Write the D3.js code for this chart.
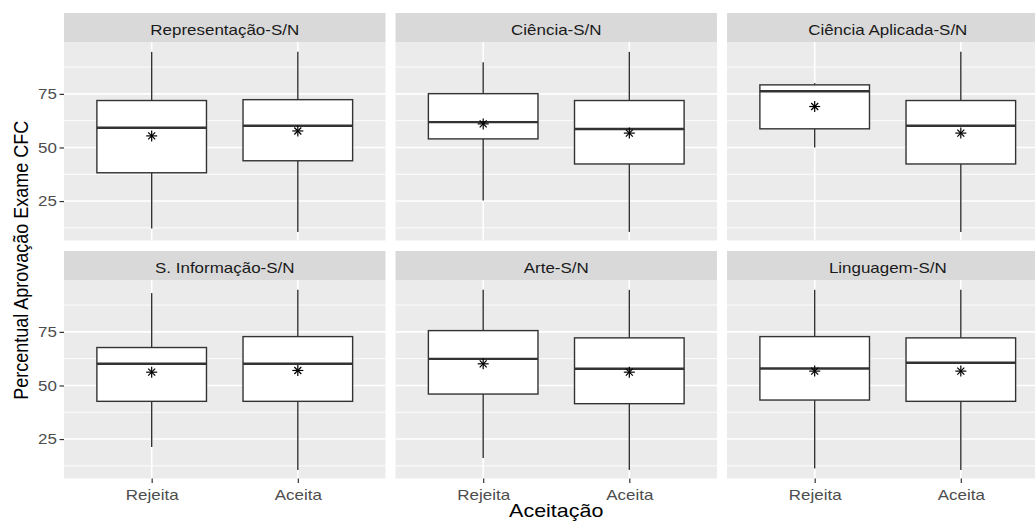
<!DOCTYPE html>
<html>
<head>
<meta charset="utf-8">
<script src="https://cdn.jsdelivr.net/npm/d3@7"></script>
<style>
  body { margin: 0; background: #fff; }
  text { font-family: "Liberation Sans", Arial, sans-serif; }
</style>
</head>
<body>
<div class="chart"></div>
<script>
// data
var facets = ["Representação-S/N", "Ciência-S/N", "Ciência Aplicada-S/N",
              "S. Informação-S/N", "Arte-S/N", "Linguagem-S/N"];
var groups = ["Rejeita", "Aceita"];

var whiskerLow  = [[12.2, 10.6], [25.3, 10.6], [50.0, 10.6], [21.3, 10.6], [16.2, 10.6], [11.3, 10.6]];
var q1          = [[38.2, 43.8], [54.0, 42.3], [58.7, 42.3], [42.6, 42.6], [46.0, 41.5], [43.2, 42.6]];
var median      = [[59.2, 60.1], [61.8, 58.6], [76.2, 60.1], [60.1, 60.1], [62.4, 57.8], [57.9, 60.6]];
var q3          = [[71.9, 72.3], [75.1, 71.9], [79.2, 71.9], [67.7, 72.8], [75.6, 72.2], [72.8, 72.2]];
var whiskerHigh = [[94.6, 94.6], [89.7, 94.6], [80.0, 94.6], [93.1, 94.6], [94.6, 94.6], [94.6, 94.6]];
var means       = [[55.4, 57.7], [61.0, 56.7], [69.1, 56.7], [56.2, 57.0], [60.1, 56.2], [56.7, 56.7]];

var yTicks = [25, 50, 75];
var yMinor = [12.5, 37.5, 62.5, 87.5];

// layout
var W = 1035, H = 521,
    left = 64, top0 = 13,
    panelW = 321.5, gapX = 10,
    stripH = 29, panelH = 198.5, rowStep = 238,
    stretch = 1.13; // the picture is a bit wider than tall

var svg = d3.select(".chart").append("svg")
    .attr("width", W)
    .attr("height", H);

// horizontal stretch for text, like the reference
function widen(sel) {
  sel.each(function() {
    var t = d3.select(this);
    var x = +t.attr("x") || 0, y = +t.attr("y") || 0;
    t.attr("x", 0).attr("y", 0)
     .attr("transform", "translate(" + x + "," + y + ") scale(" + stretch + ",1)");
  });
}

facets.forEach(function(name, i) {
  var col = i % 3, row = Math.floor(i / 3);
  var px = left + col * (panelW + gapX);
  var sy = top0 + row * rowStep;
  var py = sy + stripH;

  var x = d3.scalePoint().domain(groups).range([px, px + panelW]).padding(0.6);
  var y = d3.scaleLinear().domain([6.6, 99.2]).range([py + panelH, py]);
  var bw = x.step() * 0.75;

  var g = svg.append("g");

  // strip
  g.append("rect")
    .attr("x", px).attr("y", sy)
    .attr("width", panelW).attr("height", stripH)
    .attr("fill", "#d9d9d9");
  g.append("text")
    .attr("x", px + panelW / 2).attr("y", sy + stripH / 2 + 7.5)
    .attr("text-anchor", "middle")
    .attr("font-size", 15)
    .attr("fill", "#1a1a1a")
    .text(name)
    .call(widen);

  // panel
  g.append("rect")
    .attr("x", px).attr("y", py)
    .attr("width", panelW).attr("height", panelH)
    .attr("fill", "#ebebeb");

  g.selectAll(".minor").data(yMinor).enter().append("line")
    .attr("x1", px).attr("x2", px + panelW)
    .attr("y1", d => y(d)).attr("y2", d => y(d))
    .attr("stroke", "#fff").attr("stroke-width", 0.9);
  g.selectAll(".major").data(yTicks).enter().append("line")
    .attr("x1", px).attr("x2", px + panelW)
    .attr("y1", d => y(d)).attr("y2", d => y(d))
    .attr("stroke", "#fff").attr("stroke-width", 1.6);
  g.selectAll(".vgrid").data(groups).enter().append("line")
    .attr("x1", d => x(d)).attr("x2", d => x(d))
    .attr("y1", py).attr("y2", py + panelH)
    .attr("stroke", "#fff").attr("stroke-width", 1.6);

  // boxes
  groups.forEach(function(grp, j) {
    var cx = x(grp);
    g.append("line")
      .attr("x1", cx).attr("x2", cx)
      .attr("y1", y(whiskerHigh[i][j])).attr("y2", y(q3[i][j]))
      .attr("stroke", "#333").attr("stroke-width", 1.4);
    g.append("line")
      .attr("x1", cx).attr("x2", cx)
      .attr("y1", y(q1[i][j])).attr("y2", y(whiskerLow[i][j]))
      .attr("stroke", "#333").attr("stroke-width", 1.4);
    g.append("rect")
      .attr("x", cx - bw / 2).attr("y", y(q3[i][j]))
      .attr("width", bw).attr("height", y(q1[i][j]) - y(q3[i][j]))
      .attr("fill", "#fff").attr("stroke", "#333").attr("stroke-width", 1.4);
    g.append("line")
      .attr("x1", cx - bw / 2).attr("x2", cx + bw / 2)
      .attr("y1", y(median[i][j])).attr("y2", y(median[i][j]))
      .attr("stroke", "#333").attr("stroke-width", 2.4);

    // mean as asterisk
    var my = y(means[i][j]), r = 5.5;
    var star = g.append("g").attr("transform", "translate(" + cx + "," + my + ")")
      .attr("stroke", "#000").attr("stroke-width", 1.2);
    [0, 45, 90, 135].forEach(function(a) {
      var rad = a * Math.PI / 180, rr = (a % 90 === 0) ? r : r * 0.9;
      star.append("line")
        .attr("x1", -rr * Math.cos(rad)).attr("y1", -rr * Math.sin(rad))
        .attr("x2", rr * Math.cos(rad)).attr("y2", rr * Math.sin(rad));
    });
  });

  // y axis on first column
  if (col === 0) {
    var ya = g.append("g")
      .attr("transform", "translate(" + px + ",0)")
      .call(d3.axisLeft(y).tickValues(yTicks).tickSize(4.5).tickPadding(2.6));
    ya.select(".domain").remove();
    ya.selectAll("line").attr("stroke", "#333").attr("stroke-width", 1.2);
    ya.selectAll("text").attr("font-size", 15).attr("fill", "#4d4d4d")
      .attr("font-family", null).call(widen);
  }

  // x axis on bottom row
  if (row === 1) {
    var xa = g.append("g")
      .attr("transform", "translate(0," + (py + panelH) + ")")
      .call(d3.axisBottom(x).tickSize(4.5).tickPadding(6));
    xa.select(".domain").remove();
    xa.selectAll("line").attr("stroke", "#333").attr("stroke-width", 1.2);
    xa.selectAll("text").attr("font-size", 15).attr("fill", "#4d4d4d")
      .attr("font-family", null).call(widen);
  }
});

// axis titles
svg.append("text")
  .attr("transform", "translate(27.5," + (top0 + stripH + (rowStep + panelH) / 2) + ") scale(" + stretch + ",1) rotate(-90)")
  .attr("text-anchor", "middle")
  .attr("font-size", 18)
  .attr("fill", "#000")
  .text("Percentual Aprovação Exame CFC");

svg.append("text")
  .attr("transform", "translate(" + (left + (3 * panelW + 2 * gapX) / 2) + ",516.5) scale(" + stretch + ",1)")
  .attr("text-anchor", "middle")
  .attr("font-size", 19)
  .attr("fill", "#000")
  .text("Aceitação");
</script>
</body>
</html>
